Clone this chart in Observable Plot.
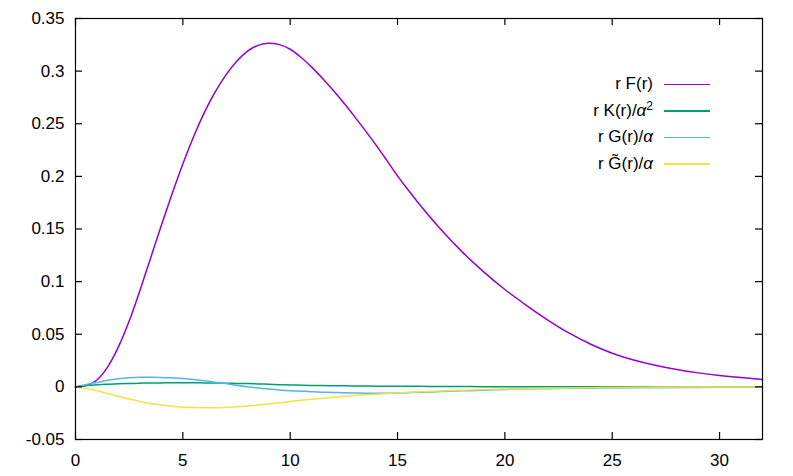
<!DOCTYPE html>
<html>
<head>
<meta charset="utf-8">
<script src="https://cdn.jsdelivr.net/npm/d3@7"></script>
<script src="https://cdn.jsdelivr.net/npm/@observablehq/plot@0.6"></script>
<style>
  html, body { margin: 0; padding: 0; background: #fff; }
  #wrap { position: relative; width: 793px; height: 476px; font-family: "Liberation Sans", Arial, sans-serif; }
  #legend { position: absolute; left: 0; top: 0; width: 793px; height: 476px; pointer-events: none; font-size: 17px; color: #000; }
  .row { position: absolute; left: 450px; width: 260px; height: 26px; }
  .row .lbl { position: absolute; right: 57px; top: 0; line-height: 26px; white-space: nowrap; }
  .row .smp { position: absolute; right: 0; width: 46px; height: 1.6px; top: 12.5px; }
  .a { font-style: italic; }
  sup { font-size: 12px; vertical-align: 6px; line-height: 0; }
</style>
</head>
<body>
<div id="wrap"></div>
<script>
// radius grid
const r = [0, 0.5, 1, 1.5, 2, 2.5, 3, 3.5, 4, 4.5, 5, 5.5, 6, 6.5, 7, 7.5, 8, 8.5, 9, 9.5, 10, 10.5, 11, 11.5, 12, 12.5, 13, 13.5, 14, 14.5, 15, 15.5, 16, 17, 18, 19, 20, 21, 22, 23, 24, 25, 26, 27, 28, 29, 30, 31, 32];
// r F(r)
const rF = [0, 0.0012, 0.0065, 0.019, 0.038, 0.0625, 0.0915, 0.1225, 0.1535, 0.1835, 0.2118, 0.2377, 0.2605, 0.2800, 0.2962, 0.3092, 0.3188, 0.3245, 0.3266, 0.3252, 0.3208, 0.3132, 0.3038, 0.2932, 0.2818, 0.2697, 0.2568, 0.2435, 0.2297, 0.2152, 0.2005, 0.1870, 0.1740, 0.1500, 0.1285, 0.1095, 0.0925, 0.0775, 0.0635, 0.0510, 0.0405, 0.0320, 0.0256, 0.0205, 0.0165, 0.0133, 0.0108, 0.0088, 0.0071];
// r K(r)/alpha^2
const rK = [0, 0.0012, 0.0020, 0.0025, 0.0029, 0.0032, 0.0035, 0.0037, 0.0038, 0.0039, 0.0039, 0.0039, 0.0038, 0.0037, 0.0035, 0.0033, 0.0031, 0.0028, 0.0025, 0.0021, 0.0018, 0.0016, 0.0014, 0.0012, 0.0011, 0.0010, 0.0009, 0.0008, 0.0007, 0.0007, 0.0006, 0.0006, 0.0005, 0.0004, 0.0003, 0.0002, 0.0002, 0.0001, 0.0001, 0.0001, 0.0001, 0.0001, 0.0001, 0, 0, 0, 0, 0, 0];
// r G(r)/alpha
const rG = [0, 0.0022, 0.0042, 0.0062, 0.0077, 0.0086, 0.0091, 0.0092, 0.0090, 0.0085, 0.0079, 0.0069, 0.0058, 0.0045, 0.0031, 0.0016, 0.0002, -0.0010, -0.0020, -0.0029, -0.0036, -0.0041, -0.0046, -0.0050, -0.0053, -0.0056, -0.0058, -0.0060, -0.0061, -0.0060, -0.0058, -0.0055, -0.0052, -0.0045, -0.0038, -0.0031, -0.0025, -0.0020, -0.0017, -0.0014, -0.0012, -0.0010, -0.0009, -0.0008, -0.0006, -0.0005, -0.0004, -0.0003, -0.0002];
// r G~(r)/alpha
const rGt = [0, -0.0016, -0.0037, -0.0062, -0.0090, -0.0115, -0.0138, -0.0158, -0.0173, -0.0185, -0.0193, -0.0197, -0.0199, -0.0198, -0.0194, -0.0189, -0.0182, -0.0173, -0.0162, -0.0150, -0.0138, -0.0127, -0.0117, -0.0108, -0.0099, -0.0091, -0.0083, -0.0076, -0.0069, -0.0063, -0.0057, -0.0052, -0.0047, -0.0039, -0.0032, -0.0026, -0.0021, -0.0017, -0.0013, -0.0010, -0.0008, -0.0006, -0.0004, -0.0003, -0.0002, -0.0001, -0.0001, 0, 0];

const xTicks = [0, 5, 10, 15, 20, 25, 30];
const yTicks = [-0.05, 0, 0.05, 0.1, 0.15, 0.2, 0.25, 0.3, 0.35];
const colors = ["#9400d3", "#009e73", "#56b4e9", "#f0e442"];

const table = r.map((v, i) => ({r: v, F: rF[i], K: rK[i], G: rG[i], Gt: rGt[i]}));
const fmtY = d => String(+d.toFixed(2));

const W = 793, H = 476, mL = 75, mR = 31, mT = 18, mB = 37, tickLen = 7;
const plotW = W - mL - mR, plotH = H - mT - mB;

const chart = Plot.plot({
  width: W,
  height: H,
  marginLeft: mL,
  marginRight: mR,
  marginTop: mT,
  marginBottom: mB,
  style: {fontFamily: "'Liberation Sans', Arial, sans-serif", fontSize: "17px", color: "#000", background: "#fff", overflow: "visible"},
  x: {domain: [0, 32]},
  y: {domain: [-0.05, 0.35]},
  marks: [
    Plot.line(table, {x: "r", y: "F", stroke: colors[0], strokeWidth: 1.5, curve: "monotone-x"}),
    Plot.line(table, {x: "r", y: "K", stroke: colors[1], strokeWidth: 1.5, curve: "monotone-x"}),
    Plot.line(table, {x: "r", y: "G", stroke: colors[2], strokeWidth: 1.5, curve: "monotone-x"}),
    Plot.line(table, {x: "r", y: "Gt", stroke: colors[3], strokeWidth: 1.5, curve: "monotone-x"}),
    // inward gnuplot-style ticks on all four sides
    Plot.ruleX(xTicks, {x: d => d, insetTop: plotH - tickLen, stroke: "#000", strokeWidth: 1.2}),
    Plot.ruleX(xTicks, {x: d => d, insetBottom: plotH - tickLen, stroke: "#000", strokeWidth: 1.2}),
    Plot.ruleY(yTicks, {y: d => d, insetRight: plotW - tickLen, stroke: "#000", strokeWidth: 1.2}),
    Plot.ruleY(yTicks, {y: d => d, insetLeft: plotW - tickLen, stroke: "#000", strokeWidth: 1.2}),
    Plot.frame({stroke: "#000", strokeWidth: 1.2}),
    Plot.axisX(xTicks, {anchor: "bottom", tickSize: 0, tickPadding: 14, label: null, tickFormat: d => String(d)}),
    Plot.axisY(yTicks, {anchor: "left", tickSize: 0, tickPadding: 11, label: null, tickFormat: fmtY})
  ]
});

const wrap = document.getElementById("wrap");
wrap.appendChild(chart);

const legend = document.createElement("div");
legend.id = "legend";
legend.innerHTML = `
  <div class="row" style="top:71px"><span class="lbl">r F(r)</span><div class="smp" style="background:${colors[0]}"></div></div>
  <div class="row" style="top:97.5px"><span class="lbl">r K(r)/<span class="a">α</span><sup>2</sup></span><div class="smp" style="background:${colors[1]}"></div></div>
  <div class="row" style="top:124px"><span class="lbl">r G(r)/<span class="a">α</span></span><div class="smp" style="background:${colors[2]}"></div></div>
  <div class="row" style="top:150.5px"><span class="lbl">r G\u0303(r)/<span class="a">α</span></span><div class="smp" style="background:${colors[3]}"></div></div>
`;
wrap.appendChild(legend);
</script>
</body>
</html>
